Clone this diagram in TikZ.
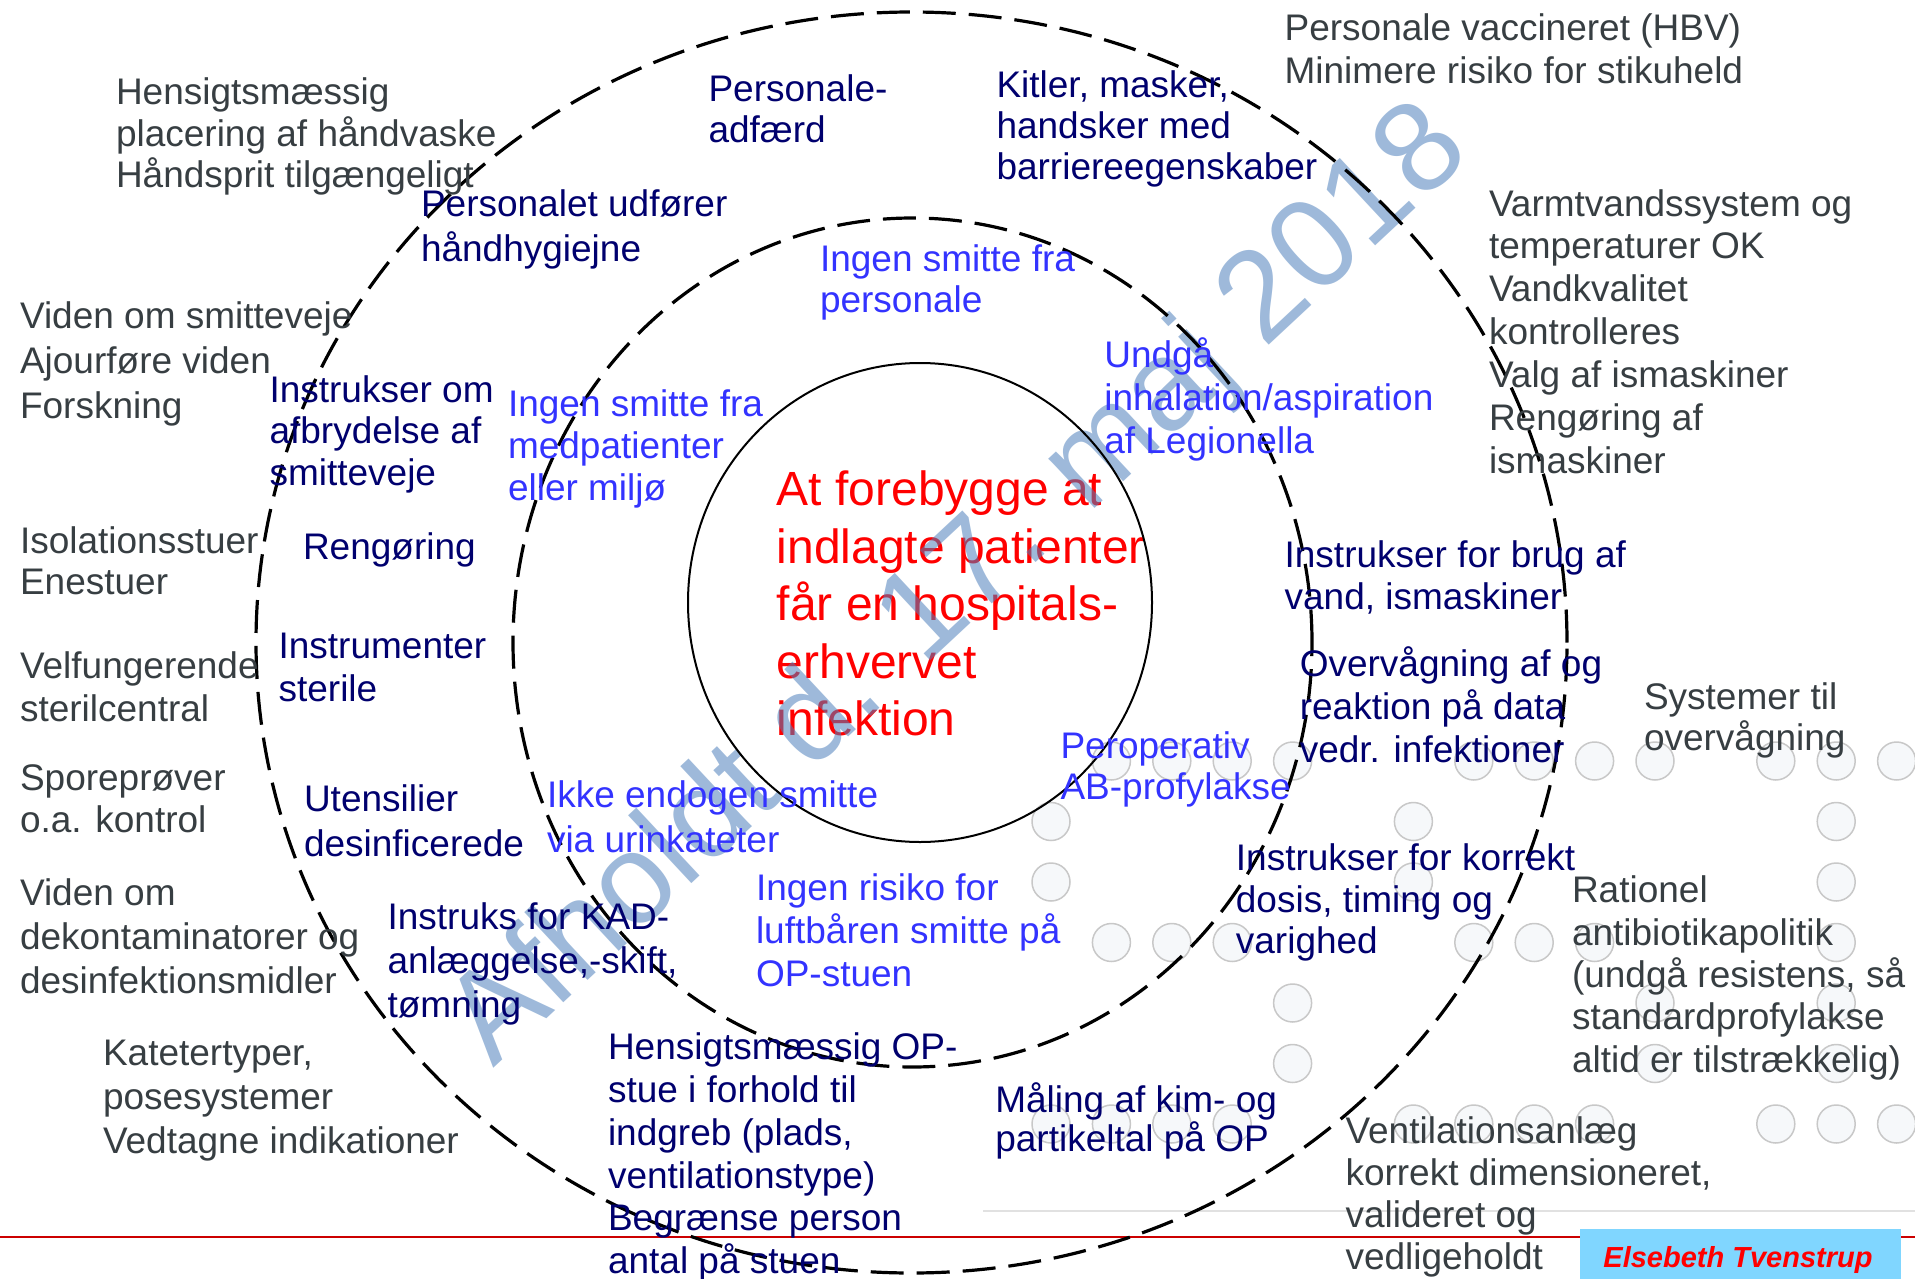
\documentclass[tikz,border=0pt]{standalone}
\usepackage{fontspec}
\setmainfont{Liberation Sans}
\definecolor{tgray}{RGB}{55,62,66}
\definecolor{tnavy}{RGB}{0,0,110}
\definecolor{tblue}{RGB}{51,51,255}
\definecolor{wmblue}{RGB}{79,129,189}
\definecolor{boxblue}{RGB}{128,214,255}
\definecolor{dotfill}{RGB}{246,248,250}
\definecolor{dotline}{RGB}{200,200,200}
\definecolor{thinline}{RGB}{225,225,225}
\definecolor{redline}{RGB}{204,0,0}
\newcommand\fsz[1]{\fontsize{37}{#1}\selectfont}
\newcommand\Ts{\rule{0pt}{1em}}
\begin{document}
\begin{tikzpicture}[x=1pt,y=-1pt,
  txt/.style={anchor=north west,inner sep=0pt,outer sep=0pt,align=left},
  gr/.style={txt,text=tgray},
  nv/.style={txt,text=tnavy},
  bl/.style={txt,text=tblue},
  ring/.style={draw=black,line width=3.2pt,dash pattern=on 33pt off 13pt},
  dotst/.style={draw=dotline,fill=dotfill,line width=1.5pt}]
\useasboundingbox (0,0) rectangle (1915,1279);
\fill[white] (0,0) rectangle (1915,1279);
% background dots
\foreach \r/\cs in {0/{1,2,3,4,7,8,9,10,12,13,14},1/{0,6,13},2/{0,6,13},3/{1,2,3,7,8,9,13},4/{4,10,13},5/{4,10,13},6/{0,1,2,3,6,7,8,9,12,13,14}}{
  \foreach \c in \cs {
    \filldraw[dotst] (1051+\c*60.4,761+\r*60.5) circle[radius=19pt];
  }
}
% lines
\draw[thinline,line width=1.5pt] (983,1211) -- (1915,1211);
\draw[redline,line width=2.5pt] (0,1237) -- (1915,1237);
\node[fill=boxblue,anchor=north west,minimum width=321pt,minimum height=50pt,inner sep=0pt] (box) at (1580,1229) {};
\node[anchor=base,inner sep=0pt,text=red,font=\fontsize{29}{29}\selectfont\bfseries\itshape] (auth) at (1738,1267.5) {Elsebeth Tvenstrup};
% centre
\node[txt,text=red,font=\fontsize{48}{57.5}\selectfont] (goal) at (776.7,457.7) {\Ts At forebygge at\\indlagte patienter\\får en hospitals-\\erhvervet\\infektion};
% watermark
\node[rotate=43,anchor=base west,inner sep=0pt,text=wmblue,text opacity=0.55,font=\fontsize{128}{128}\selectfont] (wm) at (493,1069) {Afholdt d. 17. maj 2018};
% rings
\draw[ring] (911.5,642.5) ellipse [x radius=655.5pt, y radius=630.5pt];
\draw[ring] (912.5,642.5) ellipse [x radius=399.5pt, y radius=424.5pt];
\draw[line width=2pt] (920,602.5) ellipse [x radius=232pt, y radius=239.5pt];
% gray texts
\node[gr,font=\fsz{42}] (g1) at (116,67) {\Ts Hensigtsmæssig\\placering af håndvaske\\Håndsprit tilgængeligt};
\node[gr,font=\fsz{42.9}] (g2) at (1284.6,3.8) {\Ts Personale vaccineret (HBV)\\Minimere risiko for stikuheld};
\node[gr,font=\fsz{42.9}] (g3) at (1489,179) {\Ts Varmtvandssystem og\\temperaturer OK\\Vandkvalitet\\kontrolleres\\Valg af ismaskiner\\Rengøring af\\ismaskiner};
\node[gr,font=\fsz{44.9}] (g4) at (20,291.6) {\Ts Viden om smitteveje\\Ajourføre viden\\Forskning};
\node[gr,font=\fsz{41}] (g5) at (20,516) {\Ts Isolationsstuer\\Enestuer};
\node[gr,font=\fsz{42.8}] (g6) at (20,641.7) {\Ts Velfungerende\\sterilcentral};
\node[gr,font=\fsz{41.5}] (g7) at (20,753.8) {\Ts Sporeprøver\\o.a. kontrol};
\node[gr,font=\fsz{44.4}] (g8) at (20,868) {\Ts Viden om\\dekontaminatorer og\\desinfektionsmidler};
\node[gr,font=\fsz{43.8}] (g9) at (103,1028.8) {\Ts Katetertyper,\\posesystemer\\Vedtagne indikationer};
\node[gr,font=\fsz{41.5}] (g10) at (1644,672.3) {\Ts Systemer til\\overvågning};
\node[gr,font=\fsz{42.3}] (g11) at (1572,865.8) {\Ts Rationel\\antibiotikapolitik\\(undgå resistens, så\\standardprofylakse\\altid er tilstrækkelig)};
\node[gr,font=\fsz{42.1}] (g12) at (1345.5,1106.3) {\Ts Ventilationsanlæg\\korrekt dimensioneret,\\valideret og\\vedligeholdt};
% navy texts
\node[nv,font=\fsz{41}] (n1) at (708.5,65) {\Ts Personale-\\adfærd};
\node[nv,font=\fsz{40.8}] (n2) at (996.5,61) {\Ts Kitler, masker,\\handsker med\\barriereegenskaber};
\node[nv,font=\fsz{45}] (n3) at (421,179.3) {\Ts Personalet udfører\\håndhygiejne};
\node[nv,font=\fsz{41.8}] (n4) at (269.5,365) {\Ts Instrukser om\\afbrydelse af\\smitteveje};
\node[nv,font=\fsz{42}] (n5) at (303,522) {\Ts Rengøring};
\node[nv,font=\fsz{42.7}] (n6) at (278.6,621.3) {\Ts Instrumenter\\sterile};
\node[nv,font=\fsz{45}] (n7) at (304,774) {\Ts Utensilier\\desinficerede};
\node[nv,font=\fsz{44}] (n8) at (387.6,892.3) {\Ts Instruks for KAD-\\anlæggelse,-skift,\\tømning};
\node[nv,font=\fsz{42.8}] (n9) at (608,1022.7) {\Ts Hensigtsmæssig OP-\\stue i forhold til\\indgreb (plads,\\ventilationstype)\\Begrænse person\\antal på stuen};
\node[nv,font=\fsz{38.7}] (n10) at (995.3,1075.7) {\Ts Måling af kim- og\\partikeltal på OP};
\node[nv,font=\fsz{41.8}] (n11) at (1235.9,833.2) {\Ts Instrukser for korrekt\\dosis, timing og\\varighed};
\node[nv,font=\fsz{42.8}] (n12) at (1299.8,639.7) {\Ts Overvågning af og\\reaktion på data\\vedr. infektioner};
\node[nv,font=\fsz{42}] (n13) at (1284.6,530.3) {\Ts Instrukser for brug af\\vand, ismaskiner};
% blue texts
\node[bl,font=\fsz{41}] (b1) at (820,234.7) {\Ts Ingen smitte fra\\personale};
\node[bl,font=\fsz{42}] (b2) at (508,379.3) {\Ts Ingen smitte fra\\medpatienter\\eller miljø};
\node[bl,font=\fsz{42.9}] (b3) at (1104.3,330.3) {\Ts Undgå\\inhalation/aspiration\\af Legionella};
\node[bl,font=\fsz{45}] (b4) at (547,770) {\Ts Ikke endogen smitte\\via urinkateter};
\node[bl,font=\fsz{42.8}] (b5) at (756,863.8) {\Ts Ingen risiko for\\luftbåren smitte på\\OP-stuen};
\node[bl,font=\fsz{40.8}] (b6) at (1060.5,721.2) {\Ts Peroperativ\\AB-profylakse};
\end{tikzpicture}
\end{document}
